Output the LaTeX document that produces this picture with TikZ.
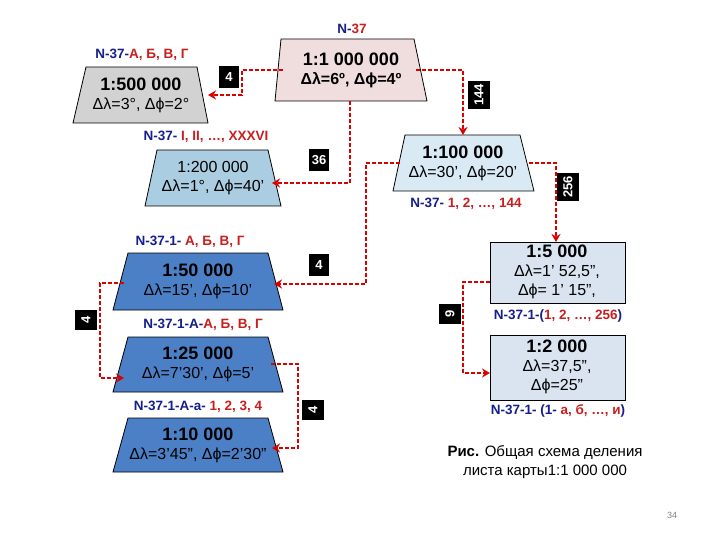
\documentclass[tikz,border=0pt]{standalone}
\usepackage{fontspec}
\setmainfont{Liberation Sans}
\usetikzlibrary{arrows.meta}
\definecolor{nb}{RGB}{20,30,140}
\definecolor{rr}{RGB}{200,30,30}
\definecolor{pinkf}{RGB}{240,222,222}
\definecolor{grayf}{RGB}{210,210,210}
\definecolor{bluef}{RGB}{170,205,225}
\definecolor{lbluef}{RGB}{218,234,244}
\definecolor{dbluef}{RGB}{75,128,198}
\definecolor{rectf}{RGB}{218,228,240}
\newcommand{\ttl}[1]{\textbf{\fontsize{18}{20}\selectfont #1}}
\tikzset{
 trap/.style={draw=black,line width=0.8pt},
 txt/.style={align=center,font=\fontsize{16}{19}\selectfont,inner sep=1pt},
 lab/.style={font=\bfseries\fontsize{13.5}{15}\selectfont,text=nb},
 num/.style={fill=black,text=white,font=\bfseries\fontsize{13}{14}\selectfont,inner sep=3pt,minimum width=20pt,minimum height=22pt},
 con/.style={draw=red!85!black,line width=2.4pt,dash pattern=on 4pt off 2pt,-{Stealth[length=8pt,width=9pt]}},
}
\newcommand{\trapz}[7]{%
 \filldraw[trap,fill=#1] (#4,#2)--(#5,#2)--(#7,#3)--(#6,#3)--cycle;}
\begin{document}
\begin{tikzpicture}[x=1pt,y=-1pt]
\useasboundingbox (0,0) rectangle (720,540);
\trapz{pinkf}{39}{101}{281}{414}{275}{427}
\trapz{grayf}{67}{123}{86}{197}{73}{208}
\trapz{bluef}{150}{206}{157}{268}{145}{281}
\trapz{lbluef}{135}{191}{405}{520}{393}{534}
\trapz{dbluef}{253}{310}{128}{268}{113}{283}
\trapz{dbluef}{337}{392}{128}{268}{113}{283}
\trapz{dbluef}{418}{472}{128}{268}{113}{283}
\draw[trap,fill=rectf] (490,242) rectangle (625,303);
\draw[trap,fill=rectf] (490,335) rectangle (625,400);
\node[txt] (m1) at (351,70) {\ttl{1:1 000 000}\\\textbf{Δλ=6º, Δϕ=4º}};
\node[txt] (m500) at (141,95) {\ttl{1:500 000}\\Δλ=3°, Δϕ=2°};
\node[txt] (m200) at (213,178) {1:200 000\\Δλ=1°, Δϕ=40’};
\node[txt] (m100) at (463,163) {\ttl{1:100 000}\\Δλ=30’, Δϕ=20’};
\node[txt] (m50) at (198,281) {\ttl{1:50 000}\\Δλ=15’, Δϕ=10’};
\node[txt] (m25) at (198,364) {\ttl{1:25 000}\\Δλ=7’30’, Δϕ=5’};
\node[txt] (m10) at (198,445) {\ttl{1:10 000}\\Δλ=3’45”, Δϕ=2’30”};
\node[txt] (m5) at (557,272) {\ttl{1:5 000}\\Δλ=1’ 52,5”,\\Δϕ= 1’ 15”,};
\node[txt] (m2) at (557,367) {\ttl{1:2 000}\\Δλ=37,5”,\\Δϕ=25”};
\node[lab] (l1) at (352,29) {N-\textcolor{rr}{37}};
\node[lab] (l2) at (142,55) {N-37-\textcolor{rr}{А, Б, В, Г}};
\node[lab] (l3) at (206,137) {N-37- \textcolor{rr}{I, II, …, XXXVI}};
\node[lab] (l4) at (466,204) {N-37- \textcolor{rr}{1, 2, …, 144}};
\node[lab] (l5) at (190,242) {N-37-1- \textcolor{rr}{А, Б, В, Г}};
\node[lab] (l6) at (203,325) {N-37-1-А-\textcolor{rr}{А, Б, В, Г}};
\node[lab] (l7) at (198,407) {N-37-1-А-а- \textcolor{rr}{1, 2, 3, 4}};
\node[lab] (l8) at (558,316) {N-37-1-(\textcolor{rr}{1, 2, …, 256})};
\node[lab] (l9) at (558,411) {N-37-1- (1- \textcolor{rr}{а, б, …, и})};
\node[align=center,font=\fontsize{15}{19}\selectfont] (cap) at (545,462) {\textbf{Рис.} Общая схема деления\\листа карты1:1 000 000};
\node[font=\fontsize{9}{10}\selectfont,text=gray] (pg) at (672,515) {34};
\coordinate (a1) at (283,70); \coordinate (a1e) at (208,95);
\coordinate (b1) at (416,70); \coordinate (b1e) at (463,135);
\coordinate (c1) at (350,101); \coordinate (c1e) at (272,183);
\coordinate (d1) at (400,163); \coordinate (d1e) at (274,284);
\coordinate (e1) at (529,163); \coordinate (e1e) at (556,242);
\coordinate (f1) at (124,283); \coordinate (f1e) at (124,378);
\coordinate (g1) at (271,364); \coordinate (g1e) at (272,448);
\coordinate (h1) at (490,282); \coordinate (h1e) at (490,373);
\draw[con] (a1) -| (242,95) -- (a1e);
\draw[con] (b1) -| (b1e);
\draw[con] (c1) |- (c1e);
\draw[con] (d1) -| (366,284) -- (d1e);
\draw[con] (e1) -| (e1e);
\draw[con] (f1) -| (100,378) -- (f1e);
\draw[con] (g1) -| (298,448) -- (g1e);
\draw[con] (h1) -| (463,373) -- (h1e);
\node[num] (n1) at (229,77) {4};
\node[num,rotate=90] (n2) at (479,95) {144};
\node[num] (n3) at (319,160) {36};
\node[num,rotate=90] (n4) at (568,187) {256};
\node[num] (n5) at (319,265) {4};
\node[num,rotate=90] (n6) at (450,314) {9};
\node[num,rotate=90] (n7) at (86,320) {4};
\node[num,rotate=90] (n8) at (313,410) {4};
\end{tikzpicture}
\end{document}
